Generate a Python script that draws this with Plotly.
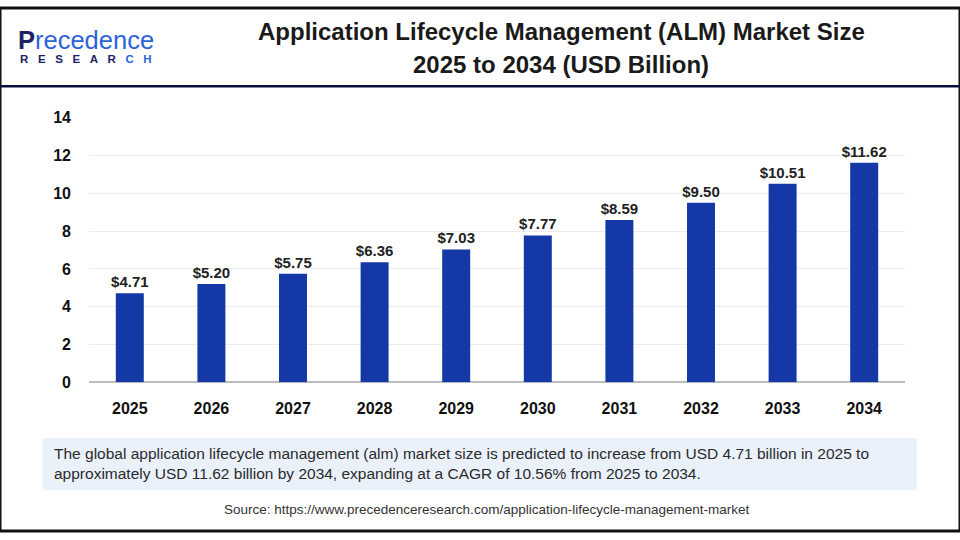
import plotly.graph_objects as go

years = ["2025", "2026", "2027", "2028", "2029", "2030", "2031", "2032", "2033", "2034"]
values = [4.71, 5.20, 5.75, 6.36, 7.03, 7.77, 8.59, 9.50, 10.51, 11.62]
y_ticks = [0, 2, 4, 6, 8, 10, 12, 14]

W, H = 960, 540

fig = go.Figure()
fig.add_trace(go.Bar(
    x=years, y=values, texttemplate="<b>$%{y:.2f}</b>", textposition="outside",
    textfont=dict(family="Liberation Sans, Arial", size=15, color="#222222"),
    marker=dict(color="#1438A6", line=dict(width=0)),
    cliponaxis=False, width=0.343, constraintext="none",
))

fig.update_layout(
    width=W, height=H,
    margin=dict(l=0, r=0, t=0, b=0),
    paper_bgcolor="white", plot_bgcolor="white",
    showlegend=False,
    xaxis=dict(domain=[89/W, 905/W], showgrid=False, showline=False, ticks="",
               tickfont=dict(family="Liberation Sans, Arial", size=16, color="#111111", weight="bold"),
               ticklabelstandoff=15),
    yaxis=dict(domain=[1 - 386.5/H, 1 - 113.3/H], range=[0, 14], tickvals=y_ticks,
               showgrid=True, gridcolor="#ECECEC", gridwidth=1,
               zeroline=True, zerolinecolor="#BDBDBD", zerolinewidth=2,
               tickfont=dict(family="Liberation Sans, Arial", size=16, color="#111111", weight="bold"),
               ticklabelstandoff=17),
    font=dict(family="Liberation Sans, Arial"),
)

shapes = [
    dict(type="rect", xref="paper", yref="paper", x0=0, x1=1, y0=0, y1=1,
         line=dict(color="#111111", width=3), fillcolor="rgba(0,0,0,0)"),
    dict(type="line", xref="paper", yref="paper", x0=0, x1=1, y0=1 - 80.7/H, y1=1 - 80.7/H,
         line=dict(color="#0d0d3d", width=2.5)),
    dict(type="rect", xref="paper", yref="paper", x0=42.7/W, x1=916.7/W, y0=1 - 498/H, y1=1 - 444/H,
         line=dict(width=0), fillcolor="#EAF1FB", layer="below"),
]
fig.update_layout(shapes=shapes)

ann = []
ann.append(dict(xref="paper", yref="paper", x=561/W, y=1 - 24.5/H, xanchor="center", yanchor="middle",
                showarrow=False,
                text="<b>Application Lifecycle Management (ALM) Market Size</b>",
                font=dict(family="Liberation Sans, Arial", size=24, color="#1a1a1a")))
ann.append(dict(xref="paper", yref="paper", x=561/W, y=1 - 58.5/H, xanchor="center", yanchor="middle",
                showarrow=False,
                text="<b>2025 to 2034 (USD Billion)</b>",
                font=dict(family="Liberation Sans, Arial", size=24, color="#1a1a1a")))
ann.append(dict(xref="paper", yref="paper", x=52/W, y=1 - 470/H, xanchor="left", yanchor="middle",
                showarrow=False, align="left",
                text="The global application lifecycle management (alm) market size is predicted to increase from USD 4.71 billion in 2025 to<br>approximately USD 11.62 billion by 2034, expanding at a CAGR of 10.56% from 2025 to 2034.",
                font=dict(family="Liberation Sans Narrow, Liberation Sans, Arial", size=15.5, color="#2a2a2a")))
ann.append(dict(xref="paper", yref="paper", x=486/W, y=1 - 518/H, xanchor="center", yanchor="middle",
                showarrow=False,
                text="Source: https://www.precedenceresearch.com/application-lifecycle-management-market",
                font=dict(family="Liberation Sans Narrow, Liberation Sans, Arial", size=13.5, color="#333333")))
# logo
ann.append(dict(xref="paper", yref="paper", x=16/W, y=1 - 33/H, xanchor="left", yanchor="middle",
                showarrow=False,
                text="<span style='color:#1b2266'><b>P</b></span>recedence",
                font=dict(family="Liberation Sans, Arial", size=25.5, color="#2d63d8")))
ann.append(dict(xref="paper", yref="paper", x=18/W, y=1 - 53/H, xanchor="left", yanchor="middle",
                showarrow=False,
                text="<b>R&nbsp;&nbsp;&nbsp;E&nbsp;&nbsp;&nbsp;S&nbsp;&nbsp;&nbsp;E&nbsp;&nbsp;&nbsp;A&nbsp;&nbsp;&nbsp;R&nbsp;&nbsp;&nbsp;<span style='color:#2d63d8'>C&nbsp;&nbsp;&nbsp;H</span></b>",
                font=dict(family="Liberation Sans, Arial", size=11.5, color="#1b2266")))
fig.update_layout(annotations=ann)

post = ("document.body.style.margin='0';"
        "document.documentElement.style.overflow='hidden';document.body.style.overflow='hidden';")
fig.write_html("out.html", config={"displayModeBar": False}, post_script=post)
